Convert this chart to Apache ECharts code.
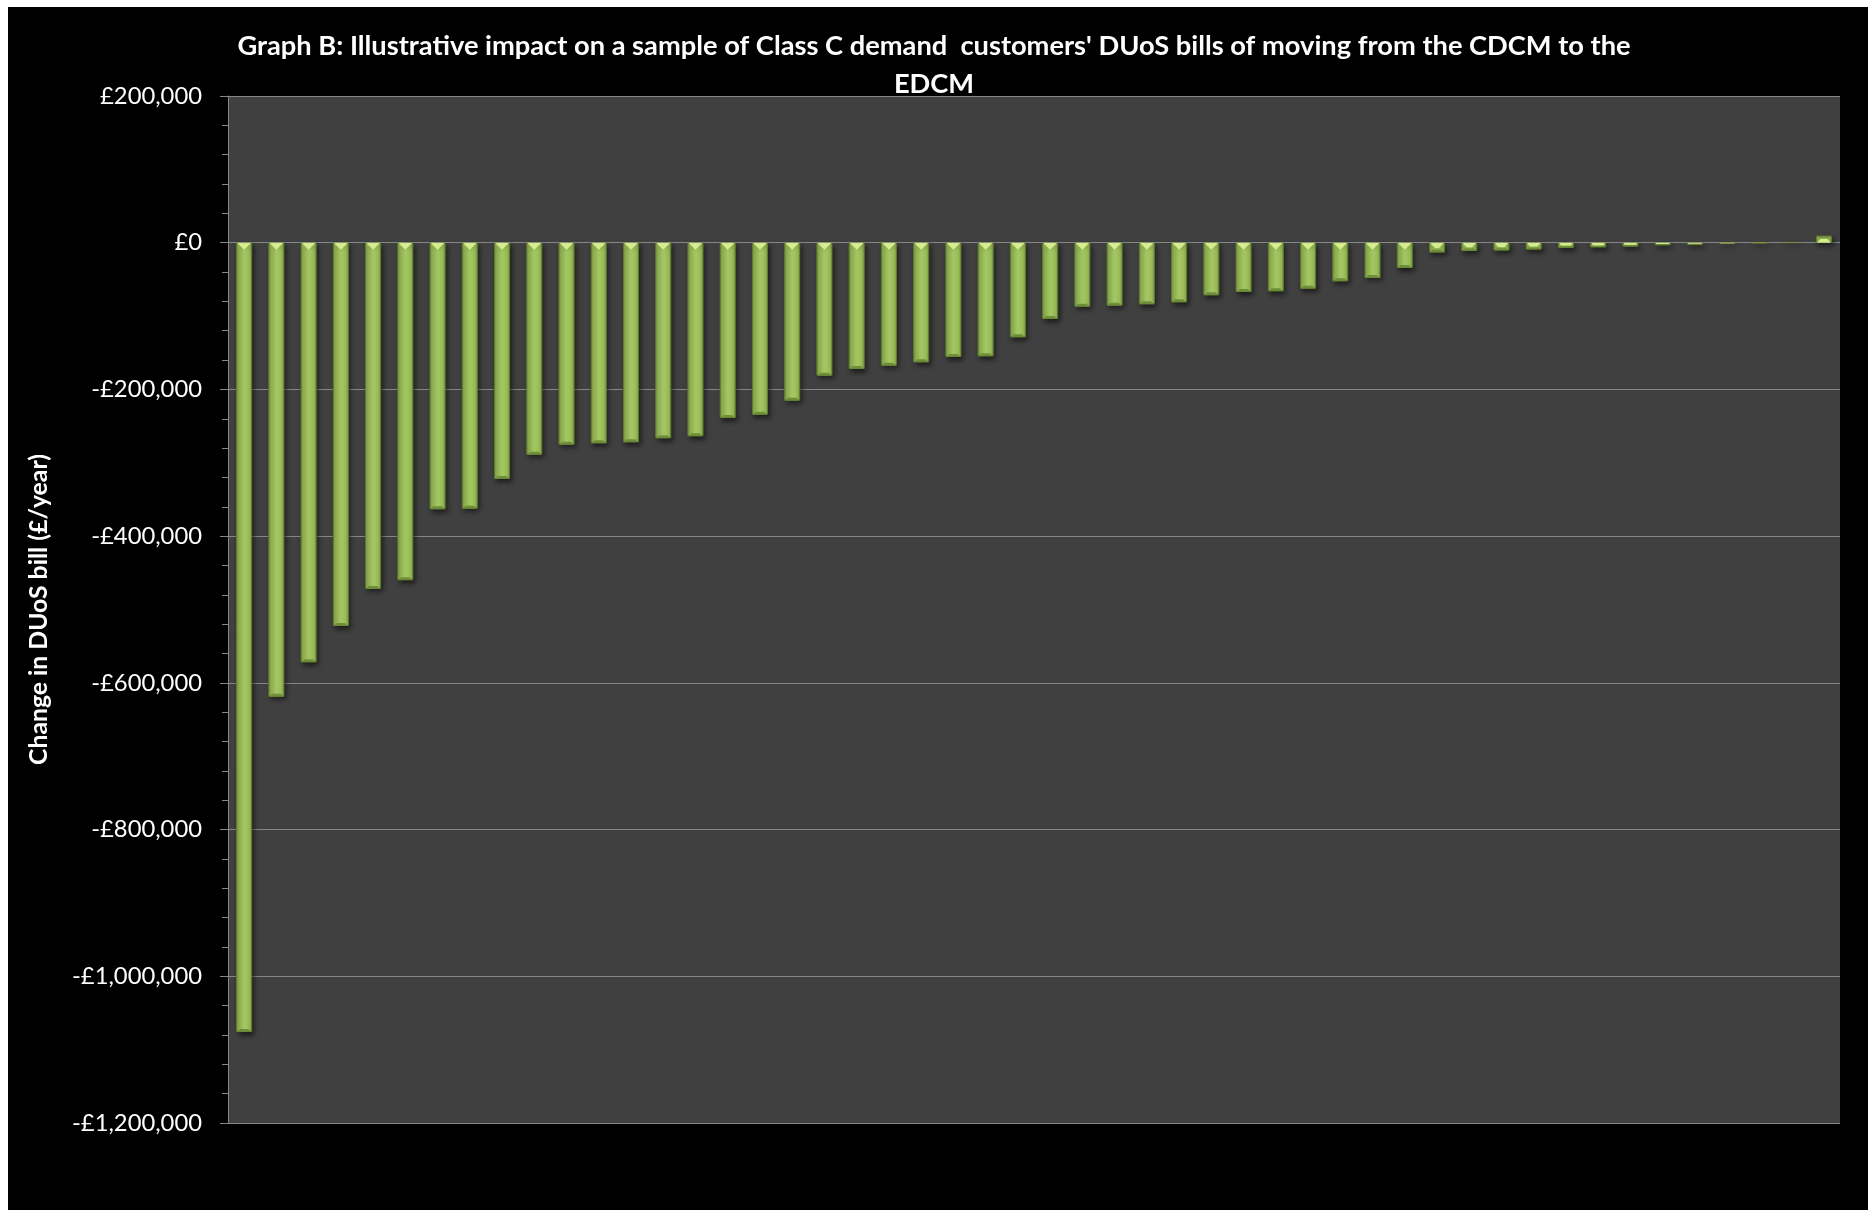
<!DOCTYPE html>
<html>
<head>
<meta charset="utf-8">
<script src="https://cdn.jsdelivr.net/npm/echarts@6/dist/echarts.min.js"></script>
<style>
  html, body { margin: 0; padding: 0; background: #ffffff; }
  #chart { position: absolute; left: 0; top: 0; width: 1868px; height: 1210px; }
</style>
</head>
<body>
<div id="chart"></div>
<script>
// ---------- data ----------
const categories = ['1','2','3','4','5','6','7','8','9','10','11','12','13','14','15','16','17','18','19','20',
  '21','22','23','24','25','26','27','28','29','30','31','32','33','34','35','36','37','38','39','40',
  '41','42','43','44','45','46','47','48','49','50'];
const changeInBill = [-1076000, -619000, -572000, -522500, -472000, -460000, -363500, -362500, -322000, -289000,
  -275300, -273500, -272100, -266600, -263900, -239000, -234400, -215300, -181300, -172200,
  -167600, -163100, -155800, -154900, -129000, -104000, -87200, -85800, -84000, -81300,
  -71700, -67200, -66300, -62700, -52700, -48100, -34500, -13300, -11300, -10600,
  -9300, -7000, -6300, -5200, -3400, -2700, -1500, -500, 500, 9500];
const yTickValues = [200000, 0, -200000, -400000, -600000, -800000, -1000000, -1200000];
const titleLines = ["Graph B: Illustrative impact on a sample of Class C demand  customers' DUoS bills of moving from the CDCM to the", "EDCM"];
const yAxisTitle = 'Change in DUoS bill (£/year)';

// ---------- helpers ----------
function fitSize(text, weight, family, target) {
  const c = document.createElement('canvas').getContext('2d');
  c.font = weight + ' 100px ' + family;
  return 100 * target / c.measureText(text).width;
}
function money(v) {
  const a = Math.abs(v).toString().replace(/\B(?=(\d{3})+(?!\d))/g, ',');
  return (v < 0 ? '-' : '') + '£' + a;
}
const FONT = 'Lato, "Open Sans", sans-serif';
const titleSize = Math.min(30, fitSize(titleLines[0], 'bold', FONT, 1394));
const labelSize = Math.min(28, fitSize('£200,000', 'normal', FONT, 102));
const nameSize = Math.min(28, fitSize(yAxisTitle, 'bold', FONT, 311));

const yMax = Math.max(...yTickValues), yMin = Math.min(...yTickValues);
const yStep = yTickValues[0] - yTickValues[1];

const chart = echarts.init(document.getElementById('chart'), null, { renderer: 'canvas' });

const barFill = new echarts.graphic.LinearGradient(0, 0, 1, 0, [
  { offset: 0, color: '#7a9943' },
  { offset: 0.18, color: '#9abd58' },
  { offset: 0.5, color: '#a5c864' },
  { offset: 0.82, color: '#9abd58' },
  { offset: 1, color: '#809f48' }
]);

chart.setOption({
  animation: false,
  backgroundColor: '#000000',
  title: {
    text: titleLines.join('\n'),
    left: 'center',
    top: 27,
    padding: [0, 0, 0, 10],
    textStyle: {
      color: '#ffffff', fontFamily: FONT, fontWeight: 'bold',
      fontSize: titleSize, lineHeight: 38
    }
  },
  graphic: [
    { type: 'rect', left: 0, top: 0, shape: { width: 1868, height: 7 }, style: { fill: '#ffffff' }, z: 100 },
    { type: 'rect', left: 0, top: 0, shape: { width: 8, height: 1210 }, style: { fill: '#ffffff' }, z: 100 }
  ],
  grid: {
    left: 228, right: 28, top: 96, bottom: 87,
    show: true, backgroundColor: '#404040', borderWidth: 0
  },
  xAxis: {
    type: 'category',
    data: categories,
    axisLine: { show: false },
    axisTick: { show: false },
    axisLabel: { show: false },
    splitLine: { show: false }
  },
  yAxis: {
    type: 'value',
    min: yMin, max: yMax, interval: yStep,
    name: yAxisTitle,
    nameLocation: 'middle',
    nameGap: 176,
    nameTextStyle: { color: '#ffffff', fontFamily: FONT, fontWeight: 'bold', fontSize: nameSize },
    axisLine: { show: true, lineStyle: { color: '#878787', width: 1 } },
    axisTick: { show: true, length: 8, lineStyle: { color: '#878787' } },
    minorTick: { show: true, splitNumber: 5, length: 6, lineStyle: { color: '#878787' } },
    axisLabel: {
      color: '#ffffff', fontFamily: FONT, fontSize: labelSize, margin: 26,
      formatter: money
    },
    splitLine: { show: true, lineStyle: { color: '#878787', width: 1 } }
  },
  series: [
    {
      type: 'bar',
      data: changeInBill,
      barWidth: '50%',
      itemStyle: {
        color: barFill,
        borderColor: '#5f7b2e',
        borderWidth: 1,
        shadowBlur: 5,
        shadowOffsetX: 2,
        shadowOffsetY: 3,
        shadowColor: 'rgba(0,0,0,0.55)'
      },
      z: 2
    },
    {
      type: 'custom',
      data: changeInBill.map((v, i) => [i, v]),
      encode: { x: 0, y: 1 },
      silent: true,
      z: 3,
      renderItem: function (params, api) {
        const idx = api.value(0), val = api.value(1);
        const base = api.coord([idx, 0]);
        const end = api.coord([idx, val]);
        const bw = api.size([1, 0])[0] * 0.5;
        const x0 = base[0] - bw / 2, x1 = base[0] + bw / 2;
        const len = Math.abs(end[1] - base[1]);
        const dir = end[1] >= base[1] ? 1 : -1;
        const T = 7;
        const t = Math.min(T, len * 0.55);
        const s = t * (bw / 2) / T;
        const b = Math.min(3, len * 0.3);
        const yb = base[1], ye = end[1];
        return {
          type: 'group',
          children: [
            {
              type: 'polygon',
              shape: { points: [[x0 + 1, yb], [x1 - 1, yb], [x1 - s, yb + dir * t], [x0 + s, yb + dir * t]] },
              style: { fill: '#d9ef93', opacity: 0.95 }
            },
            {
              type: 'polygon',
              shape: { points: [[x0 + 1, ye], [x1 - 1, ye], [x1 - 1 - b, ye - dir * b], [x0 + 1 + b, ye - dir * b]] },
              style: { fill: '#6c8a36', opacity: 0.9 }
            }
          ]
        };
      }
    }
  ]
});
</script>
</body>
</html>
